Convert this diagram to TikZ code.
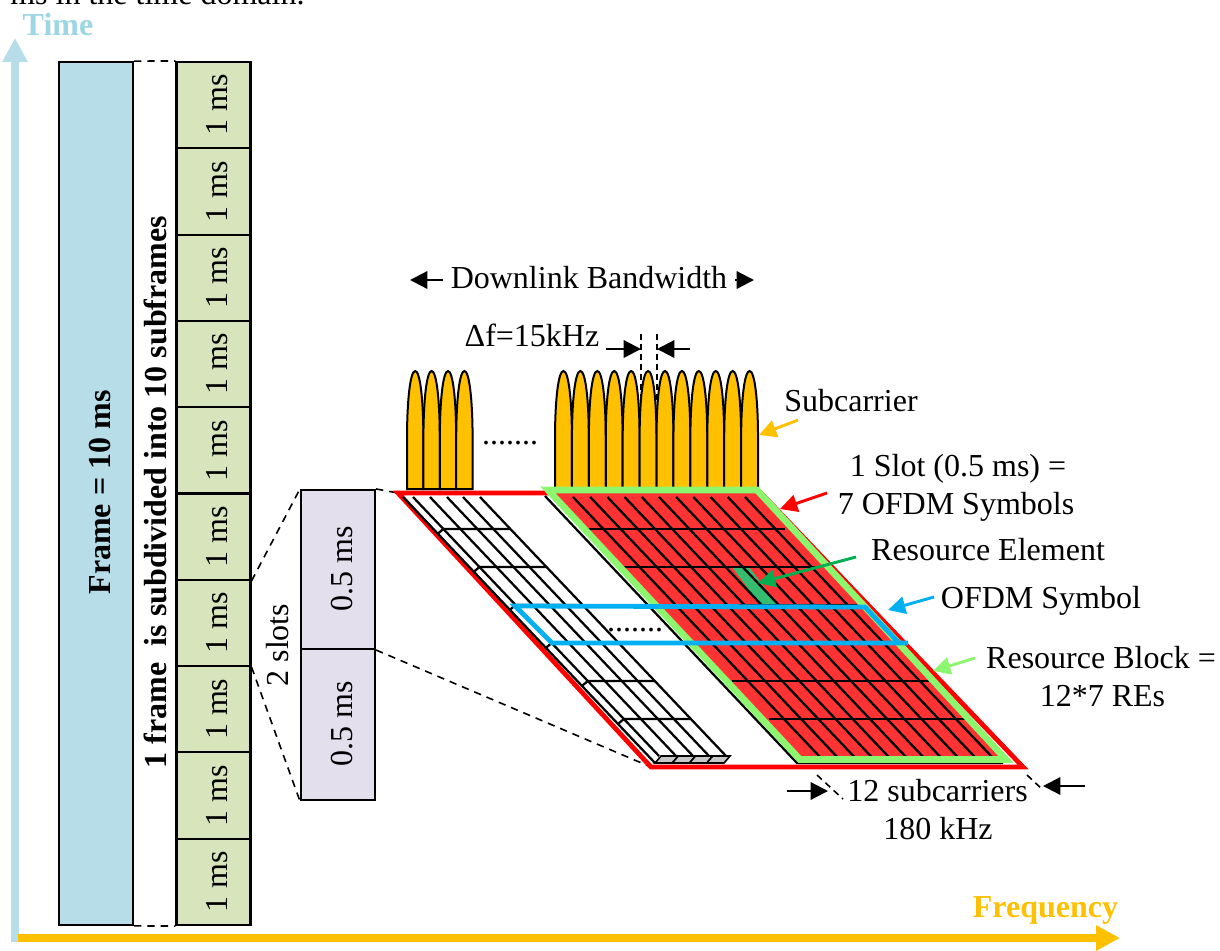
\documentclass[tikz,border=0pt]{standalone}
\usepackage{fontspec}
\setmainfont{Liberation Serif}
\usetikzlibrary{arrows.meta}
\definecolor{axisblue}{HTML}{B7DDE8}
\definecolor{timeblue}{HTML}{9DD6E4}
\definecolor{gold}{HTML}{FFC000}
\definecolor{cellgreen}{HTML}{D7E4BC}
\definecolor{slotlilac}{HTML}{E4DFEC}
\definecolor{rbgreen}{HTML}{8CF66E}
\definecolor{gridred}{HTML}{FF3333}
\definecolor{symblue}{HTML}{00B0F0}
\definecolor{regreen}{HTML}{00B050}
\definecolor{refill}{HTML}{35BC6E}
\tikzset{
  txt/.style={inner sep=0pt,anchor=base,font=\fontsize{24}{28}\selectfont},
  btxt/.style={txt,font=\fontsize{24}{28}\selectfont\bfseries},
  rtxt/.style={txt,rotate=90},
  rbtxt/.style={btxt,rotate=90},
  box/.style={draw=black,line width=1.6pt,inner sep=0pt,minimum width=55.5pt},
  sfbox/.style={box,fill=cellgreen,minimum height=64.7pt},
  slotbox/.style={box,fill=slotlilac},
  dashline/.style={draw=black,line width=1.2pt,dash pattern=on 5.5pt off 4.5pt},
  shortdash/.style={draw=black,line width=1.2pt,dash pattern=on 5pt off 3.5pt},
  gridline/.style={draw=black,line width=1.7pt},
  bumpshape/.style={draw=black,line width=1.5pt,fill=gold},
  axisarrow/.style={line width=6pt,-{Triangle[length=18pt,width=18pt]}},
  callout/.style={line width=2.2pt,-{Triangle[length=13pt,width=13pt]}},
  blackarrow/.style={draw=black,line width=1.7pt,-{Triangle[length=13pt,width=13pt]}},
}
\begin{document}
\begin{tikzpicture}[x=0.75pt,y=-0.75pt]
\useasboundingbox (0,0) rectangle (1220,950);
% clipped text line at the very top
\node[txt,anchor=base west] (toptext) at (10,4) {ms in the time domain.};
% axes
\coordinate (tA) at (15,942); \coordinate (tB) at (15,38);
\coordinate (fA) at (18,938); \coordinate (fB) at (1120,938);
\draw[axisarrow,axisblue] (tA) -- (tB);
\draw[axisarrow,gold] (fA) -- (fB);
\node[btxt,text=timeblue] (timelabel) at (58,35) {Time};
\node[btxt,text=gold] (freqlabel) at (1045.5,917) {Frequency};
% frame
\node[box,fill=axisblue,minimum height=647pt] (frame) at (96,493.5) {};
\node[rbtxt] (framelabel) at (110,492.5) {Frame = 10 ms};
% subframes
\foreach \i in {1,...,10}{
  \pgfmathsetmacro\cy{62+86.3*(\i-0.5)}
  \node[sfbox] (sf\i) at (213.5,\cy) {};
  \node[rtxt] (sft\i) at (227,\cy) {1 ms};
}
\draw[dashline] (frame.north east) -- (sf1.north west);
\draw[dashline] (frame.south east) -- (sf10.south west);
\node[rbtxt] (sublabel) at (166,492) {1 frame\ \ is subdivided into 10 subframes};
% slots
\node[slotbox,minimum height=119.2pt] (slotA) at (338,569.5) {};
\node[slotbox,minimum height=113.2pt] (slotB) at (338,724.5) {};
\node[rtxt] (slotAt) at (352,569) {0.5 ms};
\node[rtxt] (slotBt) at (352,724) {0.5 ms};
\node[rtxt] (slotslabel) at (288,645) {2 slots};
% big red parallelogram corners
\coordinate (rTL) at (398,493); \coordinate (rTR) at (761,493);
\coordinate (rBR) at (1023,767); \coordinate (rBL) at (651,767);
\draw[dashline] (sf6.south east) -- (slotA.north west);
\draw[dashline] (sf7.south east) -- (slotB.south west);
\draw[dashline] (slotA.north east) -- (rTL);
\draw[dashline] (slotA.south east) -- (rBL);
\draw[line width=3.6pt,draw=red,line join=miter] (rTL) -- (rTR) -- (rBR) -- (rBL) -- cycle;
% white (left) resource grid
\draw[gridline] (403,497) -- (655,763);
\foreach \x in {413,430,447,463,480}{
  \pgfmathsetmacro\xe{\x+0.95*259}
  \draw[gridline] (\x,497) -- (\xe,756);
}
\foreach \y in {529,567,605,643,681,719}{
  \pgfmathsetmacro\xa{413+0.95*(\y-497)}
  \pgfmathsetmacro\xb{480+0.95*(\y-497)}
  \pgfmathsetmacro\xc{\xa-6}
  \pgfmathsetmacro\yc{\y+5}
  \draw[gridline] (\xc,\yc) -- (\xa,\y) -- (\xb,\y);
}
\foreach \k in {0,1,2,3}{
  \pgfmathsetmacro\a{661+17.25*\k}
  \pgfmathsetmacro\b{\a+17.25}
  \pgfmathsetmacro\c{\a-6}
  \pgfmathsetmacro\d{\b-6}
  \draw[gridline,line width=1.2pt,fill=black!22] (\a,756) -- (\b,756) -- (\d,763) -- (\c,763) -- cycle;
}
% bumps
\foreach \s/\w/\n in {407/16.4/3,555/16.92/11}{
  \foreach \i in {0,...,\n}{
    \pgfmathsetmacro\a{\s+\w*\i}
    \pgfmathsetmacro\b{\a+\w}
    \pgfmathsetmacro\m{\a+\w/2}
    \pgfmathsetmacro\ca{\a+3.5}
    \pgfmathsetmacro\cb{\b-3.5}
    \draw[bumpshape] (\a,489) -- (\a,440) .. controls (\a,398) and (\ca,371) .. (\m,371) .. controls (\cb,371) and (\b,398) .. (\b,440) -- (\b,489) -- cycle;
  }
}
\node[txt] (dotsA) at (510,444) {.......};
\node[txt] (dotsB) at (635,631) {.......};
% dashed delta-f markers
\coordinate (dA1) at (641,334); \coordinate (dA2) at (641,400);
\coordinate (dB1) at (657,334); \coordinate (dB2) at (657,400);
\draw[draw=black,line width=1.2pt,dash pattern=on 4.5pt off 3pt] (dA1) -- (dA2);
\draw[draw=black,line width=1.2pt,dash pattern=on 4.5pt off 3pt] (dB1) -- (dB2);
\coordinate (aL) at (606,349); \coordinate (aR) at (690,349);
\coordinate (aLt) at (641,349); \coordinate (aRt) at (657,349);
\draw[blackarrow] (aL) -- (aLt);
\draw[blackarrow] (aR) -- (aRt);
% red block with grid
\draw[gridline] (545,496) -- (797,763) -- (1003,763);
\fill[gridred] (548,492) -- (757,492) -- (1007,759) -- (800,759) -- cycle;
\fill[refill] (732,567) -- (749,567) -- (777,604) -- (760,604) -- cycle;
\foreach \k in {0,...,10}{
  \pgfmathsetmacro\xa{573+17.2*\k}
  \pgfmathsetmacro\xb{\xa+0.95*260}
  \draw[gridline] (\xa,497) -- (\xb,757);
}
\foreach \y in {529,567,605,643,681,719}{
  \pgfmathsetmacro\xa{588+0.95*(\y-529)}
  \pgfmathsetmacro\xb{785+0.95*(\y-529)}
  \draw[gridline] (\xa,\y) -- (\xb,\y);
}
\draw[line width=5pt,draw=rbgreen,line join=miter] (548,490) -- (757,490) -- (1006,759.5) -- (800,759.5) -- cycle;
% OFDM symbol outline
\draw[line width=3.6pt,draw=symblue,line join=miter] (908,643) -- (552,643) -- (515,606) -- (865,607) -- (899,643);
% labels
\node[txt] (bwlabel) at (589,288) {Downlink Bandwidth};
\coordinate (bwL) at (443,280); \coordinate (bwLt) at (410,280);
\coordinate (bwR) at (735,280); \coordinate (bwRt) at (754,280);
\draw[blackarrow] (bwL) -- (bwLt);
\draw[blackarrow] (bwR) -- (bwRt);
\node[txt] (dflabel) at (532,346) {Δf=15kHz};
\node[txt] (sclabel) at (851,411) {Subcarrier};
\coordinate (scA) at (798,420); \coordinate (scB) at (759,435);
\draw[callout,gold] (scA) -- (scB);
\node[txt] (slotl1) at (958,476) {1 Slot (0.5 ms) =};
\node[txt] (slotl2) at (956,514) {7 OFDM Symbols};
\coordinate (slA) at (827,493); \coordinate (slB) at (780,509);
\draw[callout,red] (slA) -- (slB);
\node[txt] (relabel) at (988,560) {Resource Element};
\coordinate (reA) at (856,557); \coordinate (reB) at (758,583);
\draw[callout,regreen] (reA) -- (reB);
\node[txt] (symlabel) at (1041,608) {OFDM Symbol};
\coordinate (syA) at (934,597); \coordinate (syB) at (888,610);
\draw[callout,symblue] (syA) -- (syB);
\node[txt] (rblabel1) at (1101,668) {Resource Block =};
\node[txt] (rblabel2) at (1102.5,706) {12*7 REs};
\coordinate (rbA) at (975,658); \coordinate (rbB) at (933,671);
\draw[callout,rbgreen] (rbA) -- (rbB);
\node[txt] (sublbl1) at (937.5,801) {12 subcarriers};
\node[txt] (sublbl2) at (938,839) {180 kHz};
\coordinate (bA) at (787,791); \coordinate (bAt) at (828,791);
\coordinate (bB) at (1085,786); \coordinate (bBt) at (1043,786);
\draw[blackarrow] (bA) -- (bAt);
\draw[blackarrow] (bB) -- (bBt);
\coordinate (cA1) at (817,775); \coordinate (cA2) at (843,799);
\coordinate (cB1) at (1027,775); \coordinate (cB2) at (1043,790);
\draw[shortdash] (cA1) -- (cA2);
\draw[shortdash] (cB1) -- (cB2);
\end{tikzpicture}
\end{document}
